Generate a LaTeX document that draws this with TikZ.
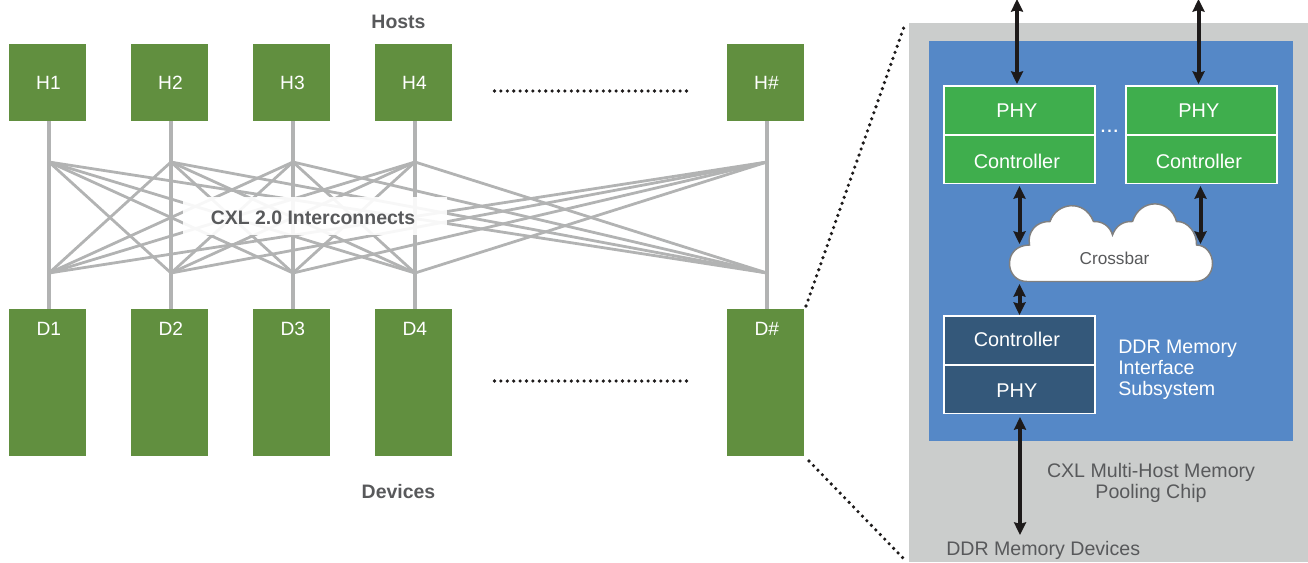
\documentclass[tikz,border=0pt]{standalone}
\usepackage{fontspec}
\setmainfont{Liberation Sans}
\usetikzlibrary{arrows.meta}
\definecolor{hostgreen}{HTML}{618F3F}
\definecolor{phygreen}{HTML}{3FAE4D}
\definecolor{chipblue}{HTML}{5588C7}
\definecolor{chipgray}{HTML}{CBCDCC}
\definecolor{navy}{HTML}{34587A}
\definecolor{linkgray}{HTML}{B2B3B3}
\definecolor{txtgray}{HTML}{58595B}
\definecolor{arrowblack}{HTML}{1D1A1A}
\tikzset{
  hosttext/.style={text=white,font=\fontsize{14.4pt}{16pt}\selectfont,anchor=center,xshift=.75pt},
  hostbox/.style={fill=hostgreen,draw=none,minimum width=57.75pt,minimum height=57.75pt,inner sep=0pt},
  devbox/.style={fill=hostgreen,draw=none,minimum width=57.75pt,minimum height=110.25pt,inner sep=0pt},
  devtext/.style={text=white,font=\fontsize{14.4pt}{16pt}\selectfont,anchor=center,yshift=-15pt,xshift=1pt},
  inbox/.style={draw=white,line width=1.3pt,minimum width=113.5pt,minimum height=36.6pt,inner sep=0pt},
  intext/.style={text=white,font=\fontsize{14.9pt}{17pt}\selectfont,anchor=center,xshift=-2pt},
  trunk/.style={draw=linkgray,line width=2.9pt},
  link/.style={draw=linkgray,line width=2.1pt},
  dots/.style={draw=arrowblack,line width=2.7pt,line cap=round,dash pattern=on 0pt off 4.8pt},
  biarrow/.style={draw=arrowblack,line width=3pt,{Stealth[length=9.5pt,width=9pt,inset=1.2pt]}-{Stealth[length=9.5pt,width=9pt,inset=1.2pt]}},
  graytext/.style={text=txtgray,font=\fontsize{14.7pt}{15.9pt}\selectfont,inner sep=0pt},
  boldlabel/.style={text=txtgray,font=\bfseries\fontsize{14.6pt}{16pt}\selectfont,inner sep=0pt},
}
\begin{document}
\begin{tikzpicture}[x=0.75pt,y=-0.75pt]
\useasboundingbox (0,0) rectangle (1308,562);
% chip backgrounds
\node[fill=chipgray,draw=none,minimum width=299.25pt,minimum height=404.25pt,inner sep=0pt] (chip) at (1108.5,292.5) {};
\node[fill=chipblue,draw=none,minimum width=273pt,minimum height=300pt,inner sep=0pt] (core) at (1111,241) {};
% hosts and devices
\node[hostbox,label={[hosttext]center:H1}] (H1) at (47.5,82.5) {};
\node[hostbox,label={[hosttext]center:H2}] (H2) at (169.5,82.5) {};
\node[hostbox,label={[hosttext]center:H3}] (H3) at (291.5,82.5) {};
\node[hostbox,label={[hosttext]center:H4}] (H4) at (413.5,82.5) {};
\node[hostbox,label={[hosttext]center:H\#}] (H5) at (765.5,82.5) {};
\node[devbox,label={[devtext]north:D1}] (D1) at (47.5,382.5) {};
\node[devbox,label={[devtext]north:D2}] (D2) at (169.5,382.5) {};
\node[devbox,label={[devtext]north:D3}] (D3) at (291.5,382.5) {};
\node[devbox,label={[devtext]north:D4}] (D4) at (413.5,382.5) {};
\node[devbox,label={[devtext]north:D\#}] (D5) at (765.5,382.5) {};
% junctions
\foreach \i/\x in {1/49,2/171,3/293,4/415,5/767}{
  \coordinate (JT\i) at (\x,162);
  \coordinate (JB\i) at (\x,273);
  \coordinate (HS\i) at (\x,121);
  \coordinate (DS\i) at (\x,309);
  \draw[trunk] (HS\i) -- (JT\i);
  \draw[trunk] (JB\i) -- (DS\i);
}
\foreach \i in {1,...,5}{
  \foreach \j in {1,...,5}{
    \ifnum\i=\j
      \draw[trunk] (JT\i) -- (JB\j);
    \else
      \draw[link] (JT\i) -- (JB\j);
    \fi
  }
}
% interconnect label with its veil
\node[fill=white,fill opacity=.9,draw=none,minimum width=198pt,minimum height=28.5pt,inner sep=0pt] (veil) at (315,216) {};
\node[boldlabel] (cxl) at (313,218) {CXL 2.0 Interconnects};
\node[boldlabel] (hosts) at (398.5,22) {Hosts};
\node[boldlabel] (devices) at (398.5,492) {Devices};
% dotted lines
\coordinate (ha) at (494.5,91); \coordinate (hb) at (687,91);
\coordinate (da) at (494.5,381); \coordinate (db) at (687,381);
\draw[dots] (ha) -- (hb);
\draw[dots] (da) -- (db);
\coordinate (zt) at (905,24); \coordinate (zts) at (806,306);
\coordinate (zb) at (903,558); \coordinate (zbs) at (809,461);
\draw[dots] (zts) -- (zt);
\draw[dots] (zbs) -- (zb);
% interface blocks
\node[inbox,fill=phygreen,label={[intext,yshift=-.45pt]center:PHY}] (p1) at (1019.5,110.4) {};
\node[inbox,fill=phygreen,label={[intext,yshift=-1.7pt]center:Controller}] (c1) at (1019.5,159.2) {};
\node[inbox,fill=phygreen,label={[intext,yshift=-.45pt]center:PHY}] (p2) at (1201.5,110.4) {};
\node[inbox,fill=phygreen,label={[intext,yshift=-1.7pt]center:Controller}] (c2) at (1201.5,159.2) {};
\node[inbox,fill=navy,label={[intext,yshift=.65pt]center:Controller}] (c3) at (1019.5,340.4) {};
\node[inbox,fill=navy,label={[intext,yshift=-1.35pt]center:PHY}] (p3) at (1019.5,389.2) {};
\node[text=white,font=\bfseries\fontsize{12pt}{12pt}\selectfont,inner sep=0pt] (more) at (1109.5,131) {.\kern1.5pt.\kern1.5pt.};
% crossbar
\path[fill=white,draw=black!50,line width=1.1pt]
  (1027,281.5) .. controls (1016,281.5) and (1009.5,273) .. (1009.5,263.5)
  .. controls (1009.5,253) and (1017,245) .. (1029.5,245)
  .. controls (1027,232) and (1036,221) .. (1050,221.5)
  .. controls (1056,203) and (1084,198) .. (1093.5,221.5)
  .. controls (1102,221) and (1110,226) .. (1112.5,235)
  .. controls (1116,225) and (1124,221) .. (1132.5,221.5)
  .. controls (1140,198) and (1170,198) .. (1176.5,221.5)
  .. controls (1188,221) and (1197,233) .. (1196.5,245)
  .. controls (1206,245) and (1212.5,254) .. (1212.5,263.5)
  .. controls (1212.5,274) and (1205,281.5) .. (1195,281.5)
  -- cycle;
\node[graytext,font=\fontsize{12.9pt}{14pt}\selectfont] (xbar) at (1114.5,258.5) {Crossbar};
% arrows
\coordinate (a1t) at (1017,-1); \coordinate (a1b) at (1017,84);
\coordinate (a2t) at (1198.5,-1); \coordinate (a2b) at (1198.5,84);
\coordinate (a3t) at (1019.5,186); \coordinate (a3b) at (1019.5,244);
\coordinate (a4t) at (1200.5,186); \coordinate (a4b) at (1200.5,244);
\coordinate (a5t) at (1019.5,284); \coordinate (a5b) at (1019.5,315);
\coordinate (a6t) at (1020,417); \coordinate (a6b) at (1020,535);
\draw[biarrow] (a1t) -- (a1b);
\draw[biarrow] (a2t) -- (a2b);
\draw[biarrow] (a3t) -- (a3b);
\draw[biarrow] (a4t) -- (a4b);
\draw[biarrow] (a5t) -- (a5b);
\draw[biarrow] (a6t) -- (a6b);
% captions
\node[text=white,font=\fontsize{14.7pt}{15.9pt}\selectfont,align=left,anchor=west,inner sep=0pt] (ddr) at (1118,369.5) {DDR Memory\\Interface\\Subsystem};
\node[graytext,align=center] (pool) at (1151,483) {CXL Multi-Host Memory\\Pooling Chip};
\node[graytext,anchor=west] (mem) at (946,550) {DDR Memory Devices};
\end{tikzpicture}
\end{document}
